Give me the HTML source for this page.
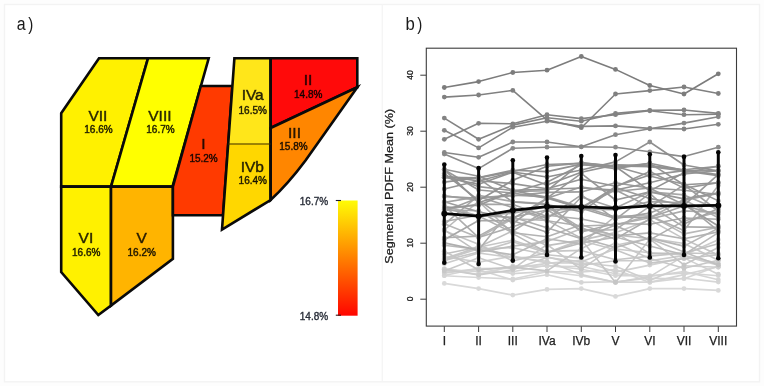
<!DOCTYPE html>
<html><head><meta charset="utf-8"><title>figure</title>
<style>
html,body{margin:0;padding:0;background:#fdfdfd;}
body{width:764px;height:386px;overflow:hidden;font-family:"Liberation Sans",sans-serif;}
svg{display:block;will-change:transform;}
text{font-family:"Liberation Sans",sans-serif;}
</style></head><body>
<svg width="764" height="386" viewBox="0 0 764 386">
<defs><linearGradient id="cb" x1="0" y1="0" x2="0" y2="1">
<stop offset="0" stop-color="#fffc05"/><stop offset="0.5" stop-color="#ff8000"/><stop offset="1" stop-color="#ff0500"/></linearGradient></defs>
<rect x="0" y="0" width="764" height="386" fill="#fdfdfd"/>
<rect x="4.5" y="4.5" width="755" height="377.3" fill="#ffffff" stroke="#f3f3f3" stroke-width="1.4"/>
<line x1="382.3" y1="4.5" x2="382.3" y2="381.8" stroke="#f5f5f5" stroke-width="1.4"/>
<text transform="translate(16.8,30) scale(0.84,1)" font-size="19" fill="#1a1a1a">a</text><text transform="translate(28.2,29.8) scale(0.8,1)" font-size="19" fill="#1a1a1a">)</text>
<text transform="translate(405.4,30) scale(0.88,1)" font-size="19" fill="#1a1a1a">b</text><text transform="translate(417.3,29.8) scale(0.8,1)" font-size="19" fill="#1a1a1a">)</text>
<g id="liver">
<polygon points="99,58.3 148,58.3 111,186.6 61.2,186.6 61.2,113.2" fill="#fff100" stroke="#0a0a0a" stroke-width="2.6" stroke-linejoin="miter"/>
<polygon points="148,58.3 208.7,58.3 172.5,186.6 111,186.6" fill="#ffff00" stroke="#0a0a0a" stroke-width="2.6" stroke-linejoin="miter"/>
<polygon points="61.2,186.6 111,186.6 111,305.6 98.3,315.1 61.2,272" fill="#fff100" stroke="#0a0a0a" stroke-width="2.6" stroke-linejoin="miter"/>
<polygon points="111,186.6 172.9,186.6 172.9,258.9 111,305.6" fill="#ffb400" stroke="#0a0a0a" stroke-width="2.6" stroke-linejoin="miter"/>
<polygon points="200.8,86.0 232.4,86.0 223.0,215.3 172.9,215.3 172.9,186.6" fill="#ff3a00" stroke="#0a0a0a" stroke-width="2.6" stroke-linejoin="miter"/>
<polygon points="234.4,58.2 270.6,58.2 270.6,143.5 228.2,143.5" fill="#ffe61a" stroke="#ffe61a" stroke-width="0.6"/>
<polygon points="228.2,143.5 270.6,143.5 270.6,200 222.0,229.6" fill="#ffd700" stroke="#ffd700" stroke-width="0.6"/>
<polygon points="270.6,58.2 357.3,58.2 357.3,87.3 270.6,128" fill="#ff0a0a" stroke="#0a0a0a" stroke-width="2.6" stroke-linejoin="miter"/>
<path d="M270.6,128 L357.3,87.3 L305.5,160.5 Q288,184 270.6,200 Z" fill="#ff8600" stroke="#0a0a0a" stroke-width="2.6" stroke-linejoin="miter"/>
<polygon points="234.4,58.2 270.6,58.2 270.6,200 222.0,229.6" fill="none" stroke="#0a0a0a" stroke-width="2.6" stroke-linejoin="miter"/>
<line x1="228.2" y1="144" x2="270.6" y2="144" stroke="#3a3000" stroke-width="1.1"/>
<text x="97.9" y="120.7" font-size="15.5" fill="rgba(0,0,0,0.82)" stroke="rgba(0,0,0,0.65)" stroke-width="0.55" text-anchor="middle">VII</text>
<text x="98.5" y="133.4" font-size="10" fill="rgba(0,0,0,0.82)" stroke="rgba(0,0,0,0.65)" stroke-width="0.55" text-anchor="middle">16.6%</text>
<text x="159.9" y="120.7" font-size="15.5" fill="rgba(0,0,0,0.82)" stroke="rgba(0,0,0,0.65)" stroke-width="0.55" text-anchor="middle">VIII</text>
<text x="160.5" y="133.4" font-size="10" fill="rgba(0,0,0,0.82)" stroke="rgba(0,0,0,0.65)" stroke-width="0.55" text-anchor="middle">16.7%</text>
<text x="85.9" y="243.1" font-size="15.5" fill="rgba(0,0,0,0.82)" stroke="rgba(0,0,0,0.65)" stroke-width="0.55" text-anchor="middle">VI</text>
<text x="86.2" y="255.7" font-size="10" fill="rgba(0,0,0,0.82)" stroke="rgba(0,0,0,0.65)" stroke-width="0.55" text-anchor="middle">16.6%</text>
<text x="141.7" y="243.1" font-size="15.5" fill="rgba(0,0,0,0.82)" stroke="rgba(0,0,0,0.65)" stroke-width="0.55" text-anchor="middle">V</text>
<text x="141.7" y="255.7" font-size="10" fill="rgba(0,0,0,0.82)" stroke="rgba(0,0,0,0.65)" stroke-width="0.55" text-anchor="middle">16.2%</text>
<text x="203.4" y="149.0" font-size="15.5" fill="rgba(0,0,0,0.82)" stroke="rgba(0,0,0,0.65)" stroke-width="0.55" text-anchor="middle">I</text>
<text x="203.6" y="162.2" font-size="10" fill="rgba(0,0,0,0.82)" stroke="rgba(0,0,0,0.65)" stroke-width="0.55" text-anchor="middle">15.2%</text>
<text x="252.7" y="100.2" font-size="15.5" fill="rgba(0,0,0,0.82)" stroke="rgba(0,0,0,0.65)" stroke-width="0.55" text-anchor="middle">IVa</text>
<text x="252.7" y="113.7" font-size="10" fill="rgba(0,0,0,0.82)" stroke="rgba(0,0,0,0.65)" stroke-width="0.55" text-anchor="middle">16.5%</text>
<text x="252.3" y="171.8" font-size="15.5" fill="rgba(0,0,0,0.82)" stroke="rgba(0,0,0,0.65)" stroke-width="0.55" text-anchor="middle">IVb</text>
<text x="252.8" y="184.2" font-size="10" fill="rgba(0,0,0,0.82)" stroke="rgba(0,0,0,0.65)" stroke-width="0.55" text-anchor="middle">16.4%</text>
<text x="308.0" y="85.1" font-size="15.5" fill="rgba(0,0,0,0.82)" stroke="rgba(0,0,0,0.65)" stroke-width="0.55" text-anchor="middle">II</text>
<text x="308.2" y="97.5" font-size="10" fill="rgba(0,0,0,0.82)" stroke="rgba(0,0,0,0.65)" stroke-width="0.55" text-anchor="middle">14.8%</text>
<text x="294.5" y="138.0" font-size="15.5" fill="rgba(0,0,0,0.82)" stroke="rgba(0,0,0,0.65)" stroke-width="0.55" text-anchor="middle">III</text>
<text x="293.5" y="150.3" font-size="10" fill="rgba(0,0,0,0.82)" stroke="rgba(0,0,0,0.65)" stroke-width="0.55" text-anchor="middle">15.8%</text>
</g>
<g id="cbar">
<rect x="338" y="200.5" width="19.6" height="115.2" fill="url(#cb)"/>
<line x1="335.8" y1="200.5" x2="341" y2="200.5" stroke="#1a1a30" stroke-width="1.1"/>
<line x1="335.8" y1="315.2" x2="341" y2="315.2" stroke="#3a1010" stroke-width="1.1"/>
<text x="314" y="204.9" font-size="10" text-anchor="middle" fill="#2a2f3a" stroke="#2a2f3a" stroke-width="0.35">16.7%</text>
<text x="314" y="319.5" font-size="10" text-anchor="middle" fill="#2a2f3a" stroke="#2a2f3a" stroke-width="0.35">14.8%</text>
</g>
<g id="chart">
<polyline points="444.3,283.4 478.6,288.6 512.8,295.1 547.0,289.4 581.3,288.6 615.5,296.4 649.8,288.6 684.0,288.6 718.3,290.4" fill="none" stroke="#d9d9d9" stroke-width="1.6" stroke-linejoin="round"/>
<circle cx="444.3" cy="283.4" r="2.4" fill="#d9d9d9"/>
<circle cx="478.6" cy="288.6" r="2.4" fill="#d9d9d9"/>
<circle cx="512.8" cy="295.1" r="2.4" fill="#d9d9d9"/>
<circle cx="547.0" cy="289.4" r="2.4" fill="#d9d9d9"/>
<circle cx="581.3" cy="288.6" r="2.4" fill="#d9d9d9"/>
<circle cx="615.5" cy="296.4" r="2.4" fill="#d9d9d9"/>
<circle cx="649.8" cy="288.6" r="2.4" fill="#d9d9d9"/>
<circle cx="684.0" cy="288.6" r="2.4" fill="#d9d9d9"/>
<circle cx="718.3" cy="290.4" r="2.4" fill="#d9d9d9"/>
<polyline points="444.3,275.7 478.6,277.5 512.8,279.0 547.0,271.8 581.3,275.7 615.5,282.1 649.8,282.1 684.0,278.3 718.3,282.1" fill="none" stroke="#d6d6d6" stroke-width="1.6" stroke-linejoin="round"/>
<circle cx="444.3" cy="275.7" r="2.4" fill="#d6d6d6"/>
<circle cx="478.6" cy="277.5" r="2.4" fill="#d6d6d6"/>
<circle cx="512.8" cy="279.0" r="2.4" fill="#d6d6d6"/>
<circle cx="547.0" cy="271.8" r="2.4" fill="#d6d6d6"/>
<circle cx="581.3" cy="275.7" r="2.4" fill="#d6d6d6"/>
<circle cx="615.5" cy="282.1" r="2.4" fill="#d6d6d6"/>
<circle cx="649.8" cy="282.1" r="2.4" fill="#d6d6d6"/>
<circle cx="684.0" cy="278.3" r="2.4" fill="#d6d6d6"/>
<circle cx="718.3" cy="282.1" r="2.4" fill="#d6d6d6"/>
<polyline points="444.3,271.9 478.6,269.7 512.8,280.0 547.0,274.7 581.3,282.4 615.5,281.7 649.8,278.3 684.0,278.7 718.3,266.1" fill="none" stroke="#d5d5d5" stroke-width="1.6" stroke-linejoin="round"/>
<circle cx="444.3" cy="271.9" r="2.4" fill="#d5d5d5"/>
<circle cx="478.6" cy="269.7" r="2.4" fill="#d5d5d5"/>
<circle cx="512.8" cy="280.0" r="2.4" fill="#d5d5d5"/>
<circle cx="547.0" cy="274.7" r="2.4" fill="#d5d5d5"/>
<circle cx="581.3" cy="282.4" r="2.4" fill="#d5d5d5"/>
<circle cx="615.5" cy="281.7" r="2.4" fill="#d5d5d5"/>
<circle cx="649.8" cy="278.3" r="2.4" fill="#d5d5d5"/>
<circle cx="684.0" cy="278.7" r="2.4" fill="#d5d5d5"/>
<circle cx="718.3" cy="266.1" r="2.4" fill="#d5d5d5"/>
<polyline points="444.3,275.5 478.6,268.2 512.8,273.6 547.0,271.5 581.3,272.0 615.5,269.6 649.8,282.4 684.0,274.6 718.3,266.8" fill="none" stroke="#d4d4d4" stroke-width="1.6" stroke-linejoin="round"/>
<circle cx="444.3" cy="275.5" r="2.4" fill="#d4d4d4"/>
<circle cx="478.6" cy="268.2" r="2.4" fill="#d4d4d4"/>
<circle cx="512.8" cy="273.6" r="2.4" fill="#d4d4d4"/>
<circle cx="547.0" cy="271.5" r="2.4" fill="#d4d4d4"/>
<circle cx="581.3" cy="272.0" r="2.4" fill="#d4d4d4"/>
<circle cx="615.5" cy="269.6" r="2.4" fill="#d4d4d4"/>
<circle cx="649.8" cy="282.4" r="2.4" fill="#d4d4d4"/>
<circle cx="684.0" cy="274.6" r="2.4" fill="#d4d4d4"/>
<circle cx="718.3" cy="266.8" r="2.4" fill="#d4d4d4"/>
<polyline points="444.3,269.2 478.6,271.8 512.8,271.8 547.0,265.3 581.3,269.2 615.5,275.7 649.8,275.7 684.0,273.0 718.3,275.7" fill="none" stroke="#d4d4d4" stroke-width="1.6" stroke-linejoin="round"/>
<circle cx="444.3" cy="269.2" r="2.4" fill="#d4d4d4"/>
<circle cx="478.6" cy="271.8" r="2.4" fill="#d4d4d4"/>
<circle cx="512.8" cy="271.8" r="2.4" fill="#d4d4d4"/>
<circle cx="547.0" cy="265.3" r="2.4" fill="#d4d4d4"/>
<circle cx="581.3" cy="269.2" r="2.4" fill="#d4d4d4"/>
<circle cx="615.5" cy="275.7" r="2.4" fill="#d4d4d4"/>
<circle cx="649.8" cy="275.7" r="2.4" fill="#d4d4d4"/>
<circle cx="684.0" cy="273.0" r="2.4" fill="#d4d4d4"/>
<circle cx="718.3" cy="275.7" r="2.4" fill="#d4d4d4"/>
<polyline points="444.3,268.6 478.6,274.6 512.8,265.9 547.0,266.3 581.3,266.5 615.5,273.8 649.8,276.4 684.0,271.5 718.3,279.8" fill="none" stroke="#d4d4d4" stroke-width="1.6" stroke-linejoin="round"/>
<circle cx="444.3" cy="268.6" r="2.4" fill="#d4d4d4"/>
<circle cx="478.6" cy="274.6" r="2.4" fill="#d4d4d4"/>
<circle cx="512.8" cy="265.9" r="2.4" fill="#d4d4d4"/>
<circle cx="547.0" cy="266.3" r="2.4" fill="#d4d4d4"/>
<circle cx="581.3" cy="266.5" r="2.4" fill="#d4d4d4"/>
<circle cx="615.5" cy="273.8" r="2.4" fill="#d4d4d4"/>
<circle cx="649.8" cy="276.4" r="2.4" fill="#d4d4d4"/>
<circle cx="684.0" cy="271.5" r="2.4" fill="#d4d4d4"/>
<circle cx="718.3" cy="279.8" r="2.4" fill="#d4d4d4"/>
<polyline points="444.3,273.1 478.6,268.6 512.8,268.4 547.0,263.4 581.3,260.2 615.5,272.1 649.8,265.1 684.0,257.9 718.3,274.2" fill="none" stroke="#d1d1d1" stroke-width="1.6" stroke-linejoin="round"/>
<circle cx="444.3" cy="273.1" r="2.4" fill="#d1d1d1"/>
<circle cx="478.6" cy="268.6" r="2.4" fill="#d1d1d1"/>
<circle cx="512.8" cy="268.4" r="2.4" fill="#d1d1d1"/>
<circle cx="547.0" cy="263.4" r="2.4" fill="#d1d1d1"/>
<circle cx="581.3" cy="260.2" r="2.4" fill="#d1d1d1"/>
<circle cx="615.5" cy="272.1" r="2.4" fill="#d1d1d1"/>
<circle cx="649.8" cy="265.1" r="2.4" fill="#d1d1d1"/>
<circle cx="684.0" cy="257.9" r="2.4" fill="#d1d1d1"/>
<circle cx="718.3" cy="274.2" r="2.4" fill="#d1d1d1"/>
<polyline points="444.3,256.5 478.6,262.1 512.8,256.1 547.0,262.9 581.3,263.0 615.5,266.3 649.8,280.5 684.0,265.7 718.3,267.3" fill="none" stroke="#cfcfcf" stroke-width="1.6" stroke-linejoin="round"/>
<circle cx="444.3" cy="256.5" r="2.4" fill="#cfcfcf"/>
<circle cx="478.6" cy="262.1" r="2.4" fill="#cfcfcf"/>
<circle cx="512.8" cy="256.1" r="2.4" fill="#cfcfcf"/>
<circle cx="547.0" cy="262.9" r="2.4" fill="#cfcfcf"/>
<circle cx="581.3" cy="263.0" r="2.4" fill="#cfcfcf"/>
<circle cx="615.5" cy="266.3" r="2.4" fill="#cfcfcf"/>
<circle cx="649.8" cy="280.5" r="2.4" fill="#cfcfcf"/>
<circle cx="684.0" cy="265.7" r="2.4" fill="#cfcfcf"/>
<circle cx="718.3" cy="267.3" r="2.4" fill="#cfcfcf"/>
<polyline points="444.3,260.7 478.6,246.1 512.8,257.5 547.0,261.3 581.3,274.5 615.5,282.4 649.8,276.6 684.0,255.9 718.3,265.2" fill="none" stroke="#cfcfcf" stroke-width="1.6" stroke-linejoin="round"/>
<circle cx="444.3" cy="260.7" r="2.4" fill="#cfcfcf"/>
<circle cx="478.6" cy="246.1" r="2.4" fill="#cfcfcf"/>
<circle cx="512.8" cy="257.5" r="2.4" fill="#cfcfcf"/>
<circle cx="547.0" cy="261.3" r="2.4" fill="#cfcfcf"/>
<circle cx="581.3" cy="274.5" r="2.4" fill="#cfcfcf"/>
<circle cx="615.5" cy="282.4" r="2.4" fill="#cfcfcf"/>
<circle cx="649.8" cy="276.6" r="2.4" fill="#cfcfcf"/>
<circle cx="684.0" cy="255.9" r="2.4" fill="#cfcfcf"/>
<circle cx="718.3" cy="265.2" r="2.4" fill="#cfcfcf"/>
<polyline points="444.3,263.7 478.6,253.0 512.8,257.7 547.0,256.9 581.3,265.2 615.5,260.8 649.8,260.8 684.0,255.6 718.3,263.2" fill="none" stroke="#cbcbcb" stroke-width="1.6" stroke-linejoin="round"/>
<circle cx="444.3" cy="263.7" r="2.4" fill="#cbcbcb"/>
<circle cx="478.6" cy="253.0" r="2.4" fill="#cbcbcb"/>
<circle cx="512.8" cy="257.7" r="2.4" fill="#cbcbcb"/>
<circle cx="547.0" cy="256.9" r="2.4" fill="#cbcbcb"/>
<circle cx="581.3" cy="265.2" r="2.4" fill="#cbcbcb"/>
<circle cx="615.5" cy="260.8" r="2.4" fill="#cbcbcb"/>
<circle cx="649.8" cy="260.8" r="2.4" fill="#cbcbcb"/>
<circle cx="684.0" cy="255.6" r="2.4" fill="#cbcbcb"/>
<circle cx="718.3" cy="263.2" r="2.4" fill="#cbcbcb"/>
<polyline points="444.3,269.5 478.6,274.9 512.8,269.8 547.0,257.5 581.3,261.7 615.5,249.0 649.8,252.8 684.0,255.0 718.3,239.7" fill="none" stroke="#cbcbcb" stroke-width="1.6" stroke-linejoin="round"/>
<circle cx="444.3" cy="269.5" r="2.4" fill="#cbcbcb"/>
<circle cx="478.6" cy="274.9" r="2.4" fill="#cbcbcb"/>
<circle cx="512.8" cy="269.8" r="2.4" fill="#cbcbcb"/>
<circle cx="547.0" cy="257.5" r="2.4" fill="#cbcbcb"/>
<circle cx="581.3" cy="261.7" r="2.4" fill="#cbcbcb"/>
<circle cx="615.5" cy="249.0" r="2.4" fill="#cbcbcb"/>
<circle cx="649.8" cy="252.8" r="2.4" fill="#cbcbcb"/>
<circle cx="684.0" cy="255.0" r="2.4" fill="#cbcbcb"/>
<circle cx="718.3" cy="239.7" r="2.4" fill="#cbcbcb"/>
<polyline points="444.3,271.1 478.6,257.7 512.8,269.2 547.0,244.5 581.3,269.3 615.5,245.3 649.8,238.3 684.0,243.5 718.3,260.2" fill="none" stroke="#c8c8c8" stroke-width="1.6" stroke-linejoin="round"/>
<circle cx="444.3" cy="271.1" r="2.4" fill="#c8c8c8"/>
<circle cx="478.6" cy="257.7" r="2.4" fill="#c8c8c8"/>
<circle cx="512.8" cy="269.2" r="2.4" fill="#c8c8c8"/>
<circle cx="547.0" cy="244.5" r="2.4" fill="#c8c8c8"/>
<circle cx="581.3" cy="269.3" r="2.4" fill="#c8c8c8"/>
<circle cx="615.5" cy="245.3" r="2.4" fill="#c8c8c8"/>
<circle cx="649.8" cy="238.3" r="2.4" fill="#c8c8c8"/>
<circle cx="684.0" cy="243.5" r="2.4" fill="#c8c8c8"/>
<circle cx="718.3" cy="260.2" r="2.4" fill="#c8c8c8"/>
<polyline points="444.3,259.6 478.6,248.7 512.8,247.7 547.0,254.7 581.3,258.1 615.5,243.0 649.8,258.5 684.0,268.2 718.3,260.2" fill="none" stroke="#c8c8c8" stroke-width="1.6" stroke-linejoin="round"/>
<circle cx="444.3" cy="259.6" r="2.4" fill="#c8c8c8"/>
<circle cx="478.6" cy="248.7" r="2.4" fill="#c8c8c8"/>
<circle cx="512.8" cy="247.7" r="2.4" fill="#c8c8c8"/>
<circle cx="547.0" cy="254.7" r="2.4" fill="#c8c8c8"/>
<circle cx="581.3" cy="258.1" r="2.4" fill="#c8c8c8"/>
<circle cx="615.5" cy="243.0" r="2.4" fill="#c8c8c8"/>
<circle cx="649.8" cy="258.5" r="2.4" fill="#c8c8c8"/>
<circle cx="684.0" cy="268.2" r="2.4" fill="#c8c8c8"/>
<circle cx="718.3" cy="260.2" r="2.4" fill="#c8c8c8"/>
<polyline points="444.3,260.4 478.6,252.0 512.8,241.7 547.0,253.0 581.3,240.7 615.5,249.8 649.8,263.1 684.0,258.7 718.3,254.6" fill="none" stroke="#c6c6c6" stroke-width="1.6" stroke-linejoin="round"/>
<circle cx="444.3" cy="260.4" r="2.4" fill="#c6c6c6"/>
<circle cx="478.6" cy="252.0" r="2.4" fill="#c6c6c6"/>
<circle cx="512.8" cy="241.7" r="2.4" fill="#c6c6c6"/>
<circle cx="547.0" cy="253.0" r="2.4" fill="#c6c6c6"/>
<circle cx="581.3" cy="240.7" r="2.4" fill="#c6c6c6"/>
<circle cx="615.5" cy="249.8" r="2.4" fill="#c6c6c6"/>
<circle cx="649.8" cy="263.1" r="2.4" fill="#c6c6c6"/>
<circle cx="684.0" cy="258.7" r="2.4" fill="#c6c6c6"/>
<circle cx="718.3" cy="254.6" r="2.4" fill="#c6c6c6"/>
<polyline points="444.3,258.5 478.6,247.3 512.8,240.2 547.0,251.4 581.3,250.4 615.5,259.8 649.8,256.1 684.0,253.0 718.3,253.7" fill="none" stroke="#c6c6c6" stroke-width="1.6" stroke-linejoin="round"/>
<circle cx="444.3" cy="258.5" r="2.4" fill="#c6c6c6"/>
<circle cx="478.6" cy="247.3" r="2.4" fill="#c6c6c6"/>
<circle cx="512.8" cy="240.2" r="2.4" fill="#c6c6c6"/>
<circle cx="547.0" cy="251.4" r="2.4" fill="#c6c6c6"/>
<circle cx="581.3" cy="250.4" r="2.4" fill="#c6c6c6"/>
<circle cx="615.5" cy="259.8" r="2.4" fill="#c6c6c6"/>
<circle cx="649.8" cy="256.1" r="2.4" fill="#c6c6c6"/>
<circle cx="684.0" cy="253.0" r="2.4" fill="#c6c6c6"/>
<circle cx="718.3" cy="253.7" r="2.4" fill="#c6c6c6"/>
<polyline points="444.3,230.8 478.6,244.3 512.8,261.0 547.0,252.7 581.3,239.5 615.5,282.4 649.8,239.2 684.0,264.8 718.3,247.5" fill="none" stroke="#c5c5c5" stroke-width="1.6" stroke-linejoin="round"/>
<circle cx="444.3" cy="230.8" r="2.4" fill="#c5c5c5"/>
<circle cx="478.6" cy="244.3" r="2.4" fill="#c5c5c5"/>
<circle cx="512.8" cy="261.0" r="2.4" fill="#c5c5c5"/>
<circle cx="547.0" cy="252.7" r="2.4" fill="#c5c5c5"/>
<circle cx="581.3" cy="239.5" r="2.4" fill="#c5c5c5"/>
<circle cx="615.5" cy="282.4" r="2.4" fill="#c5c5c5"/>
<circle cx="649.8" cy="239.2" r="2.4" fill="#c5c5c5"/>
<circle cx="684.0" cy="264.8" r="2.4" fill="#c5c5c5"/>
<circle cx="718.3" cy="247.5" r="2.4" fill="#c5c5c5"/>
<polyline points="444.3,251.2 478.6,269.8 512.8,267.1 547.0,270.9 581.3,248.4 615.5,232.8 649.8,219.8 684.0,238.9 718.3,254.9" fill="none" stroke="#c5c5c5" stroke-width="1.6" stroke-linejoin="round"/>
<circle cx="444.3" cy="251.2" r="2.4" fill="#c5c5c5"/>
<circle cx="478.6" cy="269.8" r="2.4" fill="#c5c5c5"/>
<circle cx="512.8" cy="267.1" r="2.4" fill="#c5c5c5"/>
<circle cx="547.0" cy="270.9" r="2.4" fill="#c5c5c5"/>
<circle cx="581.3" cy="248.4" r="2.4" fill="#c5c5c5"/>
<circle cx="615.5" cy="232.8" r="2.4" fill="#c5c5c5"/>
<circle cx="649.8" cy="219.8" r="2.4" fill="#c5c5c5"/>
<circle cx="684.0" cy="238.9" r="2.4" fill="#c5c5c5"/>
<circle cx="718.3" cy="254.9" r="2.4" fill="#c5c5c5"/>
<polyline points="444.3,254.0 478.6,247.0 512.8,230.8 547.0,245.6 581.3,240.1 615.5,232.6 649.8,253.6 684.0,253.1 718.3,243.8" fill="none" stroke="#c0c0c0" stroke-width="1.6" stroke-linejoin="round"/>
<circle cx="444.3" cy="254.0" r="2.4" fill="#c0c0c0"/>
<circle cx="478.6" cy="247.0" r="2.4" fill="#c0c0c0"/>
<circle cx="512.8" cy="230.8" r="2.4" fill="#c0c0c0"/>
<circle cx="547.0" cy="245.6" r="2.4" fill="#c0c0c0"/>
<circle cx="581.3" cy="240.1" r="2.4" fill="#c0c0c0"/>
<circle cx="615.5" cy="232.6" r="2.4" fill="#c0c0c0"/>
<circle cx="649.8" cy="253.6" r="2.4" fill="#c0c0c0"/>
<circle cx="684.0" cy="253.1" r="2.4" fill="#c0c0c0"/>
<circle cx="718.3" cy="243.8" r="2.4" fill="#c0c0c0"/>
<polyline points="444.3,229.9 478.6,252.3 512.8,246.1 547.0,241.6 581.3,228.7 615.5,235.0 649.8,238.8 684.0,252.1 718.3,265.0" fill="none" stroke="#bfbfbf" stroke-width="1.6" stroke-linejoin="round"/>
<circle cx="444.3" cy="229.9" r="2.4" fill="#bfbfbf"/>
<circle cx="478.6" cy="252.3" r="2.4" fill="#bfbfbf"/>
<circle cx="512.8" cy="246.1" r="2.4" fill="#bfbfbf"/>
<circle cx="547.0" cy="241.6" r="2.4" fill="#bfbfbf"/>
<circle cx="581.3" cy="228.7" r="2.4" fill="#bfbfbf"/>
<circle cx="615.5" cy="235.0" r="2.4" fill="#bfbfbf"/>
<circle cx="649.8" cy="238.8" r="2.4" fill="#bfbfbf"/>
<circle cx="684.0" cy="252.1" r="2.4" fill="#bfbfbf"/>
<circle cx="718.3" cy="265.0" r="2.4" fill="#bfbfbf"/>
<polyline points="444.3,230.0 478.6,201.3 512.8,233.6 547.0,252.4 581.3,243.0 615.5,237.1 649.8,246.0 684.0,254.7 718.3,232.7" fill="none" stroke="#bababa" stroke-width="1.6" stroke-linejoin="round"/>
<circle cx="444.3" cy="230.0" r="2.4" fill="#bababa"/>
<circle cx="478.6" cy="201.3" r="2.4" fill="#bababa"/>
<circle cx="512.8" cy="233.6" r="2.4" fill="#bababa"/>
<circle cx="547.0" cy="252.4" r="2.4" fill="#bababa"/>
<circle cx="581.3" cy="243.0" r="2.4" fill="#bababa"/>
<circle cx="615.5" cy="237.1" r="2.4" fill="#bababa"/>
<circle cx="649.8" cy="246.0" r="2.4" fill="#bababa"/>
<circle cx="684.0" cy="254.7" r="2.4" fill="#bababa"/>
<circle cx="718.3" cy="232.7" r="2.4" fill="#bababa"/>
<polyline points="444.3,245.3 478.6,249.5 512.8,254.8 547.0,238.7 581.3,243.9 615.5,216.0 649.8,215.5 684.0,233.9 718.3,227.2" fill="none" stroke="#b9b9b9" stroke-width="1.6" stroke-linejoin="round"/>
<circle cx="444.3" cy="245.3" r="2.4" fill="#b9b9b9"/>
<circle cx="478.6" cy="249.5" r="2.4" fill="#b9b9b9"/>
<circle cx="512.8" cy="254.8" r="2.4" fill="#b9b9b9"/>
<circle cx="547.0" cy="238.7" r="2.4" fill="#b9b9b9"/>
<circle cx="581.3" cy="243.9" r="2.4" fill="#b9b9b9"/>
<circle cx="615.5" cy="216.0" r="2.4" fill="#b9b9b9"/>
<circle cx="649.8" cy="215.5" r="2.4" fill="#b9b9b9"/>
<circle cx="684.0" cy="233.9" r="2.4" fill="#b9b9b9"/>
<circle cx="718.3" cy="227.2" r="2.4" fill="#b9b9b9"/>
<polyline points="444.3,223.7 478.6,237.6 512.8,218.7 547.0,220.4 581.3,238.1 615.5,247.4 649.8,238.1 684.0,246.1 718.3,228.2" fill="none" stroke="#b7b7b7" stroke-width="1.6" stroke-linejoin="round"/>
<circle cx="444.3" cy="223.7" r="2.4" fill="#b7b7b7"/>
<circle cx="478.6" cy="237.6" r="2.4" fill="#b7b7b7"/>
<circle cx="512.8" cy="218.7" r="2.4" fill="#b7b7b7"/>
<circle cx="547.0" cy="220.4" r="2.4" fill="#b7b7b7"/>
<circle cx="581.3" cy="238.1" r="2.4" fill="#b7b7b7"/>
<circle cx="615.5" cy="247.4" r="2.4" fill="#b7b7b7"/>
<circle cx="649.8" cy="238.1" r="2.4" fill="#b7b7b7"/>
<circle cx="684.0" cy="246.1" r="2.4" fill="#b7b7b7"/>
<circle cx="718.3" cy="228.2" r="2.4" fill="#b7b7b7"/>
<polyline points="444.3,205.7 478.6,216.0 512.8,232.7 547.0,236.8 581.3,224.7 615.5,235.9 649.8,232.9 684.0,238.8 718.3,231.9" fill="none" stroke="#b3b3b3" stroke-width="1.6" stroke-linejoin="round"/>
<circle cx="444.3" cy="205.7" r="2.4" fill="#b3b3b3"/>
<circle cx="478.6" cy="216.0" r="2.4" fill="#b3b3b3"/>
<circle cx="512.8" cy="232.7" r="2.4" fill="#b3b3b3"/>
<circle cx="547.0" cy="236.8" r="2.4" fill="#b3b3b3"/>
<circle cx="581.3" cy="224.7" r="2.4" fill="#b3b3b3"/>
<circle cx="615.5" cy="235.9" r="2.4" fill="#b3b3b3"/>
<circle cx="649.8" cy="232.9" r="2.4" fill="#b3b3b3"/>
<circle cx="684.0" cy="238.8" r="2.4" fill="#b3b3b3"/>
<circle cx="718.3" cy="231.9" r="2.4" fill="#b3b3b3"/>
<polyline points="444.3,237.8 478.6,236.1 512.8,217.2 547.0,227.7 581.3,238.7 615.5,225.1 649.8,215.7 684.0,230.5 718.3,185.5" fill="none" stroke="#afafaf" stroke-width="1.6" stroke-linejoin="round"/>
<circle cx="444.3" cy="237.8" r="2.4" fill="#afafaf"/>
<circle cx="478.6" cy="236.1" r="2.4" fill="#afafaf"/>
<circle cx="512.8" cy="217.2" r="2.4" fill="#afafaf"/>
<circle cx="547.0" cy="227.7" r="2.4" fill="#afafaf"/>
<circle cx="581.3" cy="238.7" r="2.4" fill="#afafaf"/>
<circle cx="615.5" cy="225.1" r="2.4" fill="#afafaf"/>
<circle cx="649.8" cy="215.7" r="2.4" fill="#afafaf"/>
<circle cx="684.0" cy="230.5" r="2.4" fill="#afafaf"/>
<circle cx="718.3" cy="185.5" r="2.4" fill="#afafaf"/>
<polyline points="444.3,242.9 478.6,250.1 512.8,207.3 547.0,220.7 581.3,226.0 615.5,224.8 649.8,217.7 684.0,199.7 718.3,217.7" fill="none" stroke="#afafaf" stroke-width="1.6" stroke-linejoin="round"/>
<circle cx="444.3" cy="242.9" r="2.4" fill="#afafaf"/>
<circle cx="478.6" cy="250.1" r="2.4" fill="#afafaf"/>
<circle cx="512.8" cy="207.3" r="2.4" fill="#afafaf"/>
<circle cx="547.0" cy="220.7" r="2.4" fill="#afafaf"/>
<circle cx="581.3" cy="226.0" r="2.4" fill="#afafaf"/>
<circle cx="615.5" cy="224.8" r="2.4" fill="#afafaf"/>
<circle cx="649.8" cy="217.7" r="2.4" fill="#afafaf"/>
<circle cx="684.0" cy="199.7" r="2.4" fill="#afafaf"/>
<circle cx="718.3" cy="217.7" r="2.4" fill="#afafaf"/>
<polyline points="444.3,205.7 478.6,237.6 512.8,226.7 547.0,215.2 581.3,219.0 615.5,225.8 649.8,239.9 684.0,220.9 718.3,211.9" fill="none" stroke="#aeaeae" stroke-width="1.6" stroke-linejoin="round"/>
<circle cx="444.3" cy="205.7" r="2.4" fill="#aeaeae"/>
<circle cx="478.6" cy="237.6" r="2.4" fill="#aeaeae"/>
<circle cx="512.8" cy="226.7" r="2.4" fill="#aeaeae"/>
<circle cx="547.0" cy="215.2" r="2.4" fill="#aeaeae"/>
<circle cx="581.3" cy="219.0" r="2.4" fill="#aeaeae"/>
<circle cx="615.5" cy="225.8" r="2.4" fill="#aeaeae"/>
<circle cx="649.8" cy="239.9" r="2.4" fill="#aeaeae"/>
<circle cx="684.0" cy="220.9" r="2.4" fill="#aeaeae"/>
<circle cx="718.3" cy="211.9" r="2.4" fill="#aeaeae"/>
<polyline points="444.3,209.8 478.6,210.8 512.8,231.2 547.0,209.8 581.3,230.5 615.5,229.7 649.8,206.4 684.0,226.9 718.3,227.4" fill="none" stroke="#acacac" stroke-width="1.6" stroke-linejoin="round"/>
<circle cx="444.3" cy="209.8" r="2.4" fill="#acacac"/>
<circle cx="478.6" cy="210.8" r="2.4" fill="#acacac"/>
<circle cx="512.8" cy="231.2" r="2.4" fill="#acacac"/>
<circle cx="547.0" cy="209.8" r="2.4" fill="#acacac"/>
<circle cx="581.3" cy="230.5" r="2.4" fill="#acacac"/>
<circle cx="615.5" cy="229.7" r="2.4" fill="#acacac"/>
<circle cx="649.8" cy="206.4" r="2.4" fill="#acacac"/>
<circle cx="684.0" cy="226.9" r="2.4" fill="#acacac"/>
<circle cx="718.3" cy="227.4" r="2.4" fill="#acacac"/>
<polyline points="444.3,221.5 478.6,215.3 512.8,213.3 547.0,206.7 581.3,228.1 615.5,238.9 649.8,219.0 684.0,210.9 718.3,212.5" fill="none" stroke="#ababab" stroke-width="1.6" stroke-linejoin="round"/>
<circle cx="444.3" cy="221.5" r="2.4" fill="#ababab"/>
<circle cx="478.6" cy="215.3" r="2.4" fill="#ababab"/>
<circle cx="512.8" cy="213.3" r="2.4" fill="#ababab"/>
<circle cx="547.0" cy="206.7" r="2.4" fill="#ababab"/>
<circle cx="581.3" cy="228.1" r="2.4" fill="#ababab"/>
<circle cx="615.5" cy="238.9" r="2.4" fill="#ababab"/>
<circle cx="649.8" cy="219.0" r="2.4" fill="#ababab"/>
<circle cx="684.0" cy="210.9" r="2.4" fill="#ababab"/>
<circle cx="718.3" cy="212.5" r="2.4" fill="#ababab"/>
<polyline points="444.3,224.3 478.6,195.4 512.8,201.6 547.0,203.9 581.3,232.0 615.5,223.5 649.8,224.2 684.0,218.0 718.3,219.3" fill="none" stroke="#a9a9a9" stroke-width="1.6" stroke-linejoin="round"/>
<circle cx="444.3" cy="224.3" r="2.4" fill="#a9a9a9"/>
<circle cx="478.6" cy="195.4" r="2.4" fill="#a9a9a9"/>
<circle cx="512.8" cy="201.6" r="2.4" fill="#a9a9a9"/>
<circle cx="547.0" cy="203.9" r="2.4" fill="#a9a9a9"/>
<circle cx="581.3" cy="232.0" r="2.4" fill="#a9a9a9"/>
<circle cx="615.5" cy="223.5" r="2.4" fill="#a9a9a9"/>
<circle cx="649.8" cy="224.2" r="2.4" fill="#a9a9a9"/>
<circle cx="684.0" cy="218.0" r="2.4" fill="#a9a9a9"/>
<circle cx="718.3" cy="219.3" r="2.4" fill="#a9a9a9"/>
<polyline points="444.3,239.8 478.6,220.5 512.8,220.8 547.0,232.3 581.3,197.0 615.5,207.9 649.8,191.9 684.0,194.9 718.3,209.4" fill="none" stroke="#a7a7a7" stroke-width="1.6" stroke-linejoin="round"/>
<circle cx="444.3" cy="239.8" r="2.4" fill="#a7a7a7"/>
<circle cx="478.6" cy="220.5" r="2.4" fill="#a7a7a7"/>
<circle cx="512.8" cy="220.8" r="2.4" fill="#a7a7a7"/>
<circle cx="547.0" cy="232.3" r="2.4" fill="#a7a7a7"/>
<circle cx="581.3" cy="197.0" r="2.4" fill="#a7a7a7"/>
<circle cx="615.5" cy="207.9" r="2.4" fill="#a7a7a7"/>
<circle cx="649.8" cy="191.9" r="2.4" fill="#a7a7a7"/>
<circle cx="684.0" cy="194.9" r="2.4" fill="#a7a7a7"/>
<circle cx="718.3" cy="209.4" r="2.4" fill="#a7a7a7"/>
<polyline points="444.3,208.8 478.6,215.7 512.8,217.2 547.0,210.0 581.3,209.2 615.5,209.7 649.8,201.6 684.0,202.8 718.3,230.9" fill="none" stroke="#a6a6a6" stroke-width="1.6" stroke-linejoin="round"/>
<circle cx="444.3" cy="208.8" r="2.4" fill="#a6a6a6"/>
<circle cx="478.6" cy="215.7" r="2.4" fill="#a6a6a6"/>
<circle cx="512.8" cy="217.2" r="2.4" fill="#a6a6a6"/>
<circle cx="547.0" cy="210.0" r="2.4" fill="#a6a6a6"/>
<circle cx="581.3" cy="209.2" r="2.4" fill="#a6a6a6"/>
<circle cx="615.5" cy="209.7" r="2.4" fill="#a6a6a6"/>
<circle cx="649.8" cy="201.6" r="2.4" fill="#a6a6a6"/>
<circle cx="684.0" cy="202.8" r="2.4" fill="#a6a6a6"/>
<circle cx="718.3" cy="230.9" r="2.4" fill="#a6a6a6"/>
<polyline points="444.3,209.6 478.6,204.1 512.8,204.5 547.0,216.6 581.3,206.4 615.5,216.9 649.8,217.6 684.0,205.9 718.3,214.5" fill="none" stroke="#a5a5a5" stroke-width="1.6" stroke-linejoin="round"/>
<circle cx="444.3" cy="209.6" r="2.4" fill="#a5a5a5"/>
<circle cx="478.6" cy="204.1" r="2.4" fill="#a5a5a5"/>
<circle cx="512.8" cy="204.5" r="2.4" fill="#a5a5a5"/>
<circle cx="547.0" cy="216.6" r="2.4" fill="#a5a5a5"/>
<circle cx="581.3" cy="206.4" r="2.4" fill="#a5a5a5"/>
<circle cx="615.5" cy="216.9" r="2.4" fill="#a5a5a5"/>
<circle cx="649.8" cy="217.6" r="2.4" fill="#a5a5a5"/>
<circle cx="684.0" cy="205.9" r="2.4" fill="#a5a5a5"/>
<circle cx="718.3" cy="214.5" r="2.4" fill="#a5a5a5"/>
<polyline points="444.3,202.4 478.6,196.7 512.8,207.6 547.0,218.3 581.3,194.8 615.5,219.3 649.8,193.3 684.0,224.1 718.3,208.6" fill="none" stroke="#a3a3a3" stroke-width="1.6" stroke-linejoin="round"/>
<circle cx="444.3" cy="202.4" r="2.4" fill="#a3a3a3"/>
<circle cx="478.6" cy="196.7" r="2.4" fill="#a3a3a3"/>
<circle cx="512.8" cy="207.6" r="2.4" fill="#a3a3a3"/>
<circle cx="547.0" cy="218.3" r="2.4" fill="#a3a3a3"/>
<circle cx="581.3" cy="194.8" r="2.4" fill="#a3a3a3"/>
<circle cx="615.5" cy="219.3" r="2.4" fill="#a3a3a3"/>
<circle cx="649.8" cy="193.3" r="2.4" fill="#a3a3a3"/>
<circle cx="684.0" cy="224.1" r="2.4" fill="#a3a3a3"/>
<circle cx="718.3" cy="208.6" r="2.4" fill="#a3a3a3"/>
<polyline points="444.3,195.9 478.6,200.3 512.8,223.5 547.0,198.3 581.3,208.3 615.5,218.4 649.8,213.1 684.0,200.1 718.3,193.4" fill="none" stroke="#a2a2a2" stroke-width="1.6" stroke-linejoin="round"/>
<circle cx="444.3" cy="195.9" r="2.4" fill="#a2a2a2"/>
<circle cx="478.6" cy="200.3" r="2.4" fill="#a2a2a2"/>
<circle cx="512.8" cy="223.5" r="2.4" fill="#a2a2a2"/>
<circle cx="547.0" cy="198.3" r="2.4" fill="#a2a2a2"/>
<circle cx="581.3" cy="208.3" r="2.4" fill="#a2a2a2"/>
<circle cx="615.5" cy="218.4" r="2.4" fill="#a2a2a2"/>
<circle cx="649.8" cy="213.1" r="2.4" fill="#a2a2a2"/>
<circle cx="684.0" cy="200.1" r="2.4" fill="#a2a2a2"/>
<circle cx="718.3" cy="193.4" r="2.4" fill="#a2a2a2"/>
<polyline points="444.3,211.3 478.6,197.8 512.8,195.2 547.0,196.7 581.3,206.9 615.5,190.0 649.8,206.9 684.0,184.8 718.3,211.0" fill="none" stroke="#9f9f9f" stroke-width="1.6" stroke-linejoin="round"/>
<circle cx="444.3" cy="211.3" r="2.4" fill="#9f9f9f"/>
<circle cx="478.6" cy="197.8" r="2.4" fill="#9f9f9f"/>
<circle cx="512.8" cy="195.2" r="2.4" fill="#9f9f9f"/>
<circle cx="547.0" cy="196.7" r="2.4" fill="#9f9f9f"/>
<circle cx="581.3" cy="206.9" r="2.4" fill="#9f9f9f"/>
<circle cx="615.5" cy="190.0" r="2.4" fill="#9f9f9f"/>
<circle cx="649.8" cy="206.9" r="2.4" fill="#9f9f9f"/>
<circle cx="684.0" cy="184.8" r="2.4" fill="#9f9f9f"/>
<circle cx="718.3" cy="211.0" r="2.4" fill="#9f9f9f"/>
<polyline points="444.3,201.8 478.6,211.8 512.8,218.8 547.0,198.2 581.3,187.1 615.5,191.5 649.8,188.0 684.0,190.2 718.3,194.5" fill="none" stroke="#9d9d9d" stroke-width="1.6" stroke-linejoin="round"/>
<circle cx="444.3" cy="201.8" r="2.4" fill="#9d9d9d"/>
<circle cx="478.6" cy="211.8" r="2.4" fill="#9d9d9d"/>
<circle cx="512.8" cy="218.8" r="2.4" fill="#9d9d9d"/>
<circle cx="547.0" cy="198.2" r="2.4" fill="#9d9d9d"/>
<circle cx="581.3" cy="187.1" r="2.4" fill="#9d9d9d"/>
<circle cx="615.5" cy="191.5" r="2.4" fill="#9d9d9d"/>
<circle cx="649.8" cy="188.0" r="2.4" fill="#9d9d9d"/>
<circle cx="684.0" cy="190.2" r="2.4" fill="#9d9d9d"/>
<circle cx="718.3" cy="194.5" r="2.4" fill="#9d9d9d"/>
<polyline points="444.3,196.4 478.6,198.3 512.8,195.7 547.0,192.4 581.3,191.9 615.5,182.7 649.8,188.3 684.0,204.8 718.3,226.0" fill="none" stroke="#9d9d9d" stroke-width="1.6" stroke-linejoin="round"/>
<circle cx="444.3" cy="196.4" r="2.4" fill="#9d9d9d"/>
<circle cx="478.6" cy="198.3" r="2.4" fill="#9d9d9d"/>
<circle cx="512.8" cy="195.7" r="2.4" fill="#9d9d9d"/>
<circle cx="547.0" cy="192.4" r="2.4" fill="#9d9d9d"/>
<circle cx="581.3" cy="191.9" r="2.4" fill="#9d9d9d"/>
<circle cx="615.5" cy="182.7" r="2.4" fill="#9d9d9d"/>
<circle cx="649.8" cy="188.3" r="2.4" fill="#9d9d9d"/>
<circle cx="684.0" cy="204.8" r="2.4" fill="#9d9d9d"/>
<circle cx="718.3" cy="226.0" r="2.4" fill="#9d9d9d"/>
<polyline points="444.3,177.1 478.6,178.6 512.8,201.9 547.0,204.5 581.3,211.8 615.5,187.4 649.8,198.4 684.0,205.3 718.3,174.4" fill="none" stroke="#9a9a9a" stroke-width="1.6" stroke-linejoin="round"/>
<circle cx="444.3" cy="177.1" r="2.4" fill="#9a9a9a"/>
<circle cx="478.6" cy="178.6" r="2.4" fill="#9a9a9a"/>
<circle cx="512.8" cy="201.9" r="2.4" fill="#9a9a9a"/>
<circle cx="547.0" cy="204.5" r="2.4" fill="#9a9a9a"/>
<circle cx="581.3" cy="211.8" r="2.4" fill="#9a9a9a"/>
<circle cx="615.5" cy="187.4" r="2.4" fill="#9a9a9a"/>
<circle cx="649.8" cy="198.4" r="2.4" fill="#9a9a9a"/>
<circle cx="684.0" cy="205.3" r="2.4" fill="#9a9a9a"/>
<circle cx="718.3" cy="174.4" r="2.4" fill="#9a9a9a"/>
<polyline points="444.3,169.8 478.6,190.0 512.8,193.0 547.0,198.1 581.3,173.4 615.5,200.0 649.8,191.9 684.0,198.9 718.3,192.9" fill="none" stroke="#989898" stroke-width="1.6" stroke-linejoin="round"/>
<circle cx="444.3" cy="169.8" r="2.4" fill="#989898"/>
<circle cx="478.6" cy="190.0" r="2.4" fill="#989898"/>
<circle cx="512.8" cy="193.0" r="2.4" fill="#989898"/>
<circle cx="547.0" cy="198.1" r="2.4" fill="#989898"/>
<circle cx="581.3" cy="173.4" r="2.4" fill="#989898"/>
<circle cx="615.5" cy="200.0" r="2.4" fill="#989898"/>
<circle cx="649.8" cy="191.9" r="2.4" fill="#989898"/>
<circle cx="684.0" cy="198.9" r="2.4" fill="#989898"/>
<circle cx="718.3" cy="192.9" r="2.4" fill="#989898"/>
<polyline points="444.3,175.6 478.6,186.6 512.8,190.6 547.0,197.4 581.3,208.5 615.5,186.8 649.8,171.5 684.0,188.1 718.3,182.7" fill="none" stroke="#979797" stroke-width="1.6" stroke-linejoin="round"/>
<circle cx="444.3" cy="175.6" r="2.4" fill="#979797"/>
<circle cx="478.6" cy="186.6" r="2.4" fill="#979797"/>
<circle cx="512.8" cy="190.6" r="2.4" fill="#979797"/>
<circle cx="547.0" cy="197.4" r="2.4" fill="#979797"/>
<circle cx="581.3" cy="208.5" r="2.4" fill="#979797"/>
<circle cx="615.5" cy="186.8" r="2.4" fill="#979797"/>
<circle cx="649.8" cy="171.5" r="2.4" fill="#979797"/>
<circle cx="684.0" cy="188.1" r="2.4" fill="#979797"/>
<circle cx="718.3" cy="182.7" r="2.4" fill="#979797"/>
<polyline points="444.3,207.8 478.6,205.2 512.8,191.4 547.0,190.8 581.3,162.6 615.5,166.5 649.8,176.0 684.0,184.2 718.3,200.9" fill="none" stroke="#969696" stroke-width="1.6" stroke-linejoin="round"/>
<circle cx="444.3" cy="207.8" r="2.4" fill="#969696"/>
<circle cx="478.6" cy="205.2" r="2.4" fill="#969696"/>
<circle cx="512.8" cy="191.4" r="2.4" fill="#969696"/>
<circle cx="547.0" cy="190.8" r="2.4" fill="#969696"/>
<circle cx="581.3" cy="162.6" r="2.4" fill="#969696"/>
<circle cx="615.5" cy="166.5" r="2.4" fill="#969696"/>
<circle cx="649.8" cy="176.0" r="2.4" fill="#969696"/>
<circle cx="684.0" cy="184.2" r="2.4" fill="#969696"/>
<circle cx="718.3" cy="200.9" r="2.4" fill="#969696"/>
<polyline points="444.3,169.3 478.6,176.3 512.8,190.3 547.0,189.3 581.3,188.0 615.5,190.0 649.8,182.7 684.0,173.9 718.3,170.8" fill="none" stroke="#959595" stroke-width="1.6" stroke-linejoin="round"/>
<circle cx="444.3" cy="169.3" r="2.4" fill="#959595"/>
<circle cx="478.6" cy="176.3" r="2.4" fill="#959595"/>
<circle cx="512.8" cy="190.3" r="2.4" fill="#959595"/>
<circle cx="547.0" cy="189.3" r="2.4" fill="#959595"/>
<circle cx="581.3" cy="188.0" r="2.4" fill="#959595"/>
<circle cx="615.5" cy="190.0" r="2.4" fill="#959595"/>
<circle cx="649.8" cy="182.7" r="2.4" fill="#959595"/>
<circle cx="684.0" cy="173.9" r="2.4" fill="#959595"/>
<circle cx="718.3" cy="170.8" r="2.4" fill="#959595"/>
<polyline points="444.3,189.0 478.6,180.7 512.8,183.6 547.0,188.8 581.3,179.2 615.5,186.3 649.8,175.1 684.0,170.6 718.3,170.5" fill="none" stroke="#949494" stroke-width="1.6" stroke-linejoin="round"/>
<circle cx="444.3" cy="189.0" r="2.4" fill="#949494"/>
<circle cx="478.6" cy="180.7" r="2.4" fill="#949494"/>
<circle cx="512.8" cy="183.6" r="2.4" fill="#949494"/>
<circle cx="547.0" cy="188.8" r="2.4" fill="#949494"/>
<circle cx="581.3" cy="179.2" r="2.4" fill="#949494"/>
<circle cx="615.5" cy="186.3" r="2.4" fill="#949494"/>
<circle cx="649.8" cy="175.1" r="2.4" fill="#949494"/>
<circle cx="684.0" cy="170.6" r="2.4" fill="#949494"/>
<circle cx="718.3" cy="170.5" r="2.4" fill="#949494"/>
<polyline points="444.3,169.6 478.6,202.4 512.8,192.4 547.0,182.2 581.3,164.7 615.5,167.3 649.8,163.4 684.0,184.8 718.3,182.7" fill="none" stroke="#949494" stroke-width="1.6" stroke-linejoin="round"/>
<circle cx="444.3" cy="169.6" r="2.4" fill="#949494"/>
<circle cx="478.6" cy="202.4" r="2.4" fill="#949494"/>
<circle cx="512.8" cy="192.4" r="2.4" fill="#949494"/>
<circle cx="547.0" cy="182.2" r="2.4" fill="#949494"/>
<circle cx="581.3" cy="164.7" r="2.4" fill="#949494"/>
<circle cx="615.5" cy="167.3" r="2.4" fill="#949494"/>
<circle cx="649.8" cy="163.4" r="2.4" fill="#949494"/>
<circle cx="684.0" cy="184.8" r="2.4" fill="#949494"/>
<circle cx="718.3" cy="182.7" r="2.4" fill="#949494"/>
<polyline points="444.3,173.4 478.6,200.5 512.8,180.3 547.0,166.2 581.3,163.1 615.5,165.9 649.8,166.6 684.0,170.9 718.3,175.7" fill="none" stroke="#929292" stroke-width="1.6" stroke-linejoin="round"/>
<circle cx="444.3" cy="173.4" r="2.4" fill="#929292"/>
<circle cx="478.6" cy="200.5" r="2.4" fill="#929292"/>
<circle cx="512.8" cy="180.3" r="2.4" fill="#929292"/>
<circle cx="547.0" cy="166.2" r="2.4" fill="#929292"/>
<circle cx="581.3" cy="163.1" r="2.4" fill="#929292"/>
<circle cx="615.5" cy="165.9" r="2.4" fill="#929292"/>
<circle cx="649.8" cy="166.6" r="2.4" fill="#929292"/>
<circle cx="684.0" cy="170.9" r="2.4" fill="#929292"/>
<circle cx="718.3" cy="175.7" r="2.4" fill="#929292"/>
<polyline points="444.3,177.2 478.6,184.2 512.8,172.2 547.0,185.0 581.3,172.3 615.5,164.9 649.8,165.6 684.0,169.8 718.3,166.3" fill="none" stroke="#929292" stroke-width="1.6" stroke-linejoin="round"/>
<circle cx="444.3" cy="177.2" r="2.4" fill="#929292"/>
<circle cx="478.6" cy="184.2" r="2.4" fill="#929292"/>
<circle cx="512.8" cy="172.2" r="2.4" fill="#929292"/>
<circle cx="547.0" cy="185.0" r="2.4" fill="#929292"/>
<circle cx="581.3" cy="172.3" r="2.4" fill="#929292"/>
<circle cx="615.5" cy="164.9" r="2.4" fill="#929292"/>
<circle cx="649.8" cy="165.6" r="2.4" fill="#929292"/>
<circle cx="684.0" cy="169.8" r="2.4" fill="#929292"/>
<circle cx="718.3" cy="166.3" r="2.4" fill="#929292"/>
<polyline points="444.3,177.3 478.6,177.9 512.8,171.4 547.0,164.5 581.3,163.3 615.5,166.5 649.8,190.9 684.0,172.7 718.3,166.2" fill="none" stroke="#929292" stroke-width="1.6" stroke-linejoin="round"/>
<circle cx="444.3" cy="177.3" r="2.4" fill="#929292"/>
<circle cx="478.6" cy="177.9" r="2.4" fill="#929292"/>
<circle cx="512.8" cy="171.4" r="2.4" fill="#929292"/>
<circle cx="547.0" cy="164.5" r="2.4" fill="#929292"/>
<circle cx="581.3" cy="163.3" r="2.4" fill="#929292"/>
<circle cx="615.5" cy="166.5" r="2.4" fill="#929292"/>
<circle cx="649.8" cy="190.9" r="2.4" fill="#929292"/>
<circle cx="684.0" cy="172.7" r="2.4" fill="#929292"/>
<circle cx="718.3" cy="166.2" r="2.4" fill="#929292"/>
<polyline points="444.3,182.1 478.6,177.6 512.8,170.2 547.0,171.6 581.3,164.1 615.5,168.7 649.8,163.2 684.0,170.4 718.3,174.6" fill="none" stroke="#919191" stroke-width="1.6" stroke-linejoin="round"/>
<circle cx="444.3" cy="182.1" r="2.4" fill="#919191"/>
<circle cx="478.6" cy="177.6" r="2.4" fill="#919191"/>
<circle cx="512.8" cy="170.2" r="2.4" fill="#919191"/>
<circle cx="547.0" cy="171.6" r="2.4" fill="#919191"/>
<circle cx="581.3" cy="164.1" r="2.4" fill="#919191"/>
<circle cx="615.5" cy="168.7" r="2.4" fill="#919191"/>
<circle cx="649.8" cy="163.2" r="2.4" fill="#919191"/>
<circle cx="684.0" cy="170.4" r="2.4" fill="#919191"/>
<circle cx="718.3" cy="174.6" r="2.4" fill="#919191"/>
<polyline points="444.3,176.0 478.6,181.0 512.8,172.0 547.0,177.0 581.3,170.0 615.5,161.9 649.8,142.0 684.0,165.0 718.3,171.0" fill="none" stroke="#909090" stroke-width="1.6" stroke-linejoin="round"/>
<circle cx="444.3" cy="176.0" r="2.4" fill="#909090"/>
<circle cx="478.6" cy="181.0" r="2.4" fill="#909090"/>
<circle cx="512.8" cy="172.0" r="2.4" fill="#909090"/>
<circle cx="547.0" cy="177.0" r="2.4" fill="#909090"/>
<circle cx="581.3" cy="170.0" r="2.4" fill="#909090"/>
<circle cx="615.5" cy="161.9" r="2.4" fill="#909090"/>
<circle cx="649.8" cy="142.0" r="2.4" fill="#909090"/>
<circle cx="684.0" cy="165.0" r="2.4" fill="#909090"/>
<circle cx="718.3" cy="171.0" r="2.4" fill="#909090"/>
<polyline points="444.3,154.1 478.6,168.6 512.8,148.3 547.0,147.2 581.3,146.8 615.5,147.2 649.8,151.8 684.0,156.6 718.3,147.2" fill="none" stroke="#8b8b8b" stroke-width="1.6" stroke-linejoin="round"/>
<circle cx="444.3" cy="154.1" r="2.4" fill="#8b8b8b"/>
<circle cx="478.6" cy="168.6" r="2.4" fill="#8b8b8b"/>
<circle cx="512.8" cy="148.3" r="2.4" fill="#8b8b8b"/>
<circle cx="547.0" cy="147.2" r="2.4" fill="#8b8b8b"/>
<circle cx="581.3" cy="146.8" r="2.4" fill="#8b8b8b"/>
<circle cx="615.5" cy="147.2" r="2.4" fill="#8b8b8b"/>
<circle cx="649.8" cy="151.8" r="2.4" fill="#8b8b8b"/>
<circle cx="684.0" cy="156.6" r="2.4" fill="#8b8b8b"/>
<circle cx="718.3" cy="147.2" r="2.4" fill="#8b8b8b"/>
<polyline points="444.3,152.5 478.6,157.3 512.8,142.0 547.0,142.0 581.3,146.8 615.5,134.7 649.8,128.8 684.0,123.1 718.3,116.8" fill="none" stroke="#878787" stroke-width="1.6" stroke-linejoin="round"/>
<circle cx="444.3" cy="152.5" r="2.4" fill="#878787"/>
<circle cx="478.6" cy="157.3" r="2.4" fill="#878787"/>
<circle cx="512.8" cy="142.0" r="2.4" fill="#878787"/>
<circle cx="547.0" cy="142.0" r="2.4" fill="#878787"/>
<circle cx="581.3" cy="146.8" r="2.4" fill="#878787"/>
<circle cx="615.5" cy="134.7" r="2.4" fill="#878787"/>
<circle cx="649.8" cy="128.8" r="2.4" fill="#878787"/>
<circle cx="684.0" cy="123.1" r="2.4" fill="#878787"/>
<circle cx="718.3" cy="116.8" r="2.4" fill="#878787"/>
<polyline points="444.3,130.3 478.6,147.9 512.8,127.2 547.0,121.2 581.3,126.4 615.5,125.9 649.8,128.4 684.0,129.0 718.3,124.3" fill="none" stroke="#848484" stroke-width="1.6" stroke-linejoin="round"/>
<circle cx="444.3" cy="130.3" r="2.4" fill="#848484"/>
<circle cx="478.6" cy="147.9" r="2.4" fill="#848484"/>
<circle cx="512.8" cy="127.2" r="2.4" fill="#848484"/>
<circle cx="547.0" cy="121.2" r="2.4" fill="#848484"/>
<circle cx="581.3" cy="126.4" r="2.4" fill="#848484"/>
<circle cx="615.5" cy="125.9" r="2.4" fill="#848484"/>
<circle cx="649.8" cy="128.4" r="2.4" fill="#848484"/>
<circle cx="684.0" cy="129.0" r="2.4" fill="#848484"/>
<circle cx="718.3" cy="124.3" r="2.4" fill="#848484"/>
<polyline points="444.3,139.3 478.6,123.3 512.8,123.8 547.0,114.7 581.3,118.6 615.5,114.7 649.8,110.8 684.0,114.7 718.3,114.2" fill="none" stroke="#838383" stroke-width="1.6" stroke-linejoin="round"/>
<circle cx="444.3" cy="139.3" r="2.4" fill="#838383"/>
<circle cx="478.6" cy="123.3" r="2.4" fill="#838383"/>
<circle cx="512.8" cy="123.8" r="2.4" fill="#838383"/>
<circle cx="547.0" cy="114.7" r="2.4" fill="#838383"/>
<circle cx="581.3" cy="118.6" r="2.4" fill="#838383"/>
<circle cx="615.5" cy="114.7" r="2.4" fill="#838383"/>
<circle cx="649.8" cy="110.8" r="2.4" fill="#838383"/>
<circle cx="684.0" cy="114.7" r="2.4" fill="#838383"/>
<circle cx="718.3" cy="114.2" r="2.4" fill="#838383"/>
<polyline points="444.3,118.1 478.6,139.3 512.8,125.1 547.0,117.8 581.3,121.2 615.5,113.4 649.8,110.3 684.0,110.0 718.3,113.4" fill="none" stroke="#838383" stroke-width="1.6" stroke-linejoin="round"/>
<circle cx="444.3" cy="118.1" r="2.4" fill="#838383"/>
<circle cx="478.6" cy="139.3" r="2.4" fill="#838383"/>
<circle cx="512.8" cy="125.1" r="2.4" fill="#838383"/>
<circle cx="547.0" cy="117.8" r="2.4" fill="#838383"/>
<circle cx="581.3" cy="121.2" r="2.4" fill="#838383"/>
<circle cx="615.5" cy="113.4" r="2.4" fill="#838383"/>
<circle cx="649.8" cy="110.3" r="2.4" fill="#838383"/>
<circle cx="684.0" cy="110.0" r="2.4" fill="#838383"/>
<circle cx="718.3" cy="113.4" r="2.4" fill="#838383"/>
<polyline points="444.3,97.1 478.6,95.0 512.8,90.4 547.0,119.9 581.3,127.7 615.5,94.0 649.8,90.6 684.0,87.0 718.3,93.5" fill="none" stroke="#808080" stroke-width="1.6" stroke-linejoin="round"/>
<circle cx="444.3" cy="97.1" r="2.4" fill="#808080"/>
<circle cx="478.6" cy="95.0" r="2.4" fill="#808080"/>
<circle cx="512.8" cy="90.4" r="2.4" fill="#808080"/>
<circle cx="547.0" cy="119.9" r="2.4" fill="#808080"/>
<circle cx="581.3" cy="127.7" r="2.4" fill="#808080"/>
<circle cx="615.5" cy="94.0" r="2.4" fill="#808080"/>
<circle cx="649.8" cy="90.6" r="2.4" fill="#808080"/>
<circle cx="684.0" cy="87.0" r="2.4" fill="#808080"/>
<circle cx="718.3" cy="93.5" r="2.4" fill="#808080"/>
<polyline points="444.3,87.5 478.6,81.6 512.8,72.5 547.0,70.2 581.3,56.5 615.5,69.4 649.8,85.5 684.0,94.0 718.3,73.8" fill="none" stroke="#7c7c7c" stroke-width="1.6" stroke-linejoin="round"/>
<circle cx="444.3" cy="87.5" r="2.4" fill="#7c7c7c"/>
<circle cx="478.6" cy="81.6" r="2.4" fill="#7c7c7c"/>
<circle cx="512.8" cy="72.5" r="2.4" fill="#7c7c7c"/>
<circle cx="547.0" cy="70.2" r="2.4" fill="#7c7c7c"/>
<circle cx="581.3" cy="56.5" r="2.4" fill="#7c7c7c"/>
<circle cx="615.5" cy="69.4" r="2.4" fill="#7c7c7c"/>
<circle cx="649.8" cy="85.5" r="2.4" fill="#7c7c7c"/>
<circle cx="684.0" cy="94.0" r="2.4" fill="#7c7c7c"/>
<circle cx="718.3" cy="73.8" r="2.4" fill="#7c7c7c"/>
<line x1="444.3" y1="164.6" x2="444.3" y2="262.7" stroke="#050505" stroke-width="3.0"/>
<circle cx="444.3" cy="164.6" r="2.3" fill="#050505"/>
<circle cx="444.3" cy="262.7" r="2.3" fill="#050505"/>
<line x1="478.6" y1="168.0" x2="478.6" y2="264.0" stroke="#050505" stroke-width="3.0"/>
<circle cx="478.6" cy="168.0" r="2.3" fill="#050505"/>
<circle cx="478.6" cy="264.0" r="2.3" fill="#050505"/>
<line x1="512.8" y1="160.2" x2="512.8" y2="260.6" stroke="#050505" stroke-width="3.0"/>
<circle cx="512.8" cy="160.2" r="2.3" fill="#050505"/>
<circle cx="512.8" cy="260.6" r="2.3" fill="#050505"/>
<line x1="547.0" y1="157.6" x2="547.0" y2="255.0" stroke="#050505" stroke-width="3.0"/>
<circle cx="547.0" cy="157.6" r="2.3" fill="#050505"/>
<circle cx="547.0" cy="255.0" r="2.3" fill="#050505"/>
<line x1="581.3" y1="156.0" x2="581.3" y2="257.5" stroke="#050505" stroke-width="3.0"/>
<circle cx="581.3" cy="156.0" r="2.3" fill="#050505"/>
<circle cx="581.3" cy="257.5" r="2.3" fill="#050505"/>
<line x1="615.5" y1="155.0" x2="615.5" y2="261.4" stroke="#050505" stroke-width="3.0"/>
<circle cx="615.5" cy="155.0" r="2.3" fill="#050505"/>
<circle cx="615.5" cy="261.4" r="2.3" fill="#050505"/>
<line x1="649.8" y1="154.2" x2="649.8" y2="257.5" stroke="#050505" stroke-width="3.0"/>
<circle cx="649.8" cy="154.2" r="2.3" fill="#050505"/>
<circle cx="649.8" cy="257.5" r="2.3" fill="#050505"/>
<line x1="684.0" y1="156.8" x2="684.0" y2="255.0" stroke="#050505" stroke-width="3.0"/>
<circle cx="684.0" cy="156.8" r="2.3" fill="#050505"/>
<circle cx="684.0" cy="255.0" r="2.3" fill="#050505"/>
<line x1="718.3" y1="152.2" x2="718.3" y2="258.3" stroke="#050505" stroke-width="3.0"/>
<circle cx="718.3" cy="152.2" r="2.3" fill="#050505"/>
<circle cx="718.3" cy="258.3" r="2.3" fill="#050505"/>
<polyline points="444.3,213.7 478.6,216.2 512.8,210.4 547.0,206.6 581.3,206.9 615.5,208.1 649.8,205.9 684.0,205.9 718.3,205.4" fill="none" stroke="#050505" stroke-width="2.8" stroke-linejoin="round"/>
<circle cx="444.3" cy="213.7" r="3" fill="#050505"/>
<circle cx="478.6" cy="216.2" r="3" fill="#050505"/>
<circle cx="512.8" cy="210.4" r="3" fill="#050505"/>
<circle cx="547.0" cy="206.6" r="3" fill="#050505"/>
<circle cx="581.3" cy="206.9" r="3" fill="#050505"/>
<circle cx="615.5" cy="208.1" r="3" fill="#050505"/>
<circle cx="649.8" cy="205.9" r="3" fill="#050505"/>
<circle cx="684.0" cy="205.9" r="3" fill="#050505"/>
<circle cx="718.3" cy="205.4" r="3" fill="#050505"/>
<rect x="426.3" y="48.2" width="310.2" height="277.9" fill="none" stroke="#3c3c3c" stroke-width="1.1"/>
<line x1="420.3" y1="299.2" x2="426.2" y2="299.2" stroke="#3a3a3a" stroke-width="1"/>
<text transform="translate(413,298.9) rotate(-90) scale(0.9,1)" text-anchor="middle" font-size="9.5" fill="#222" stroke="#222" stroke-width="0.25">0</text>
<line x1="420.3" y1="243.2" x2="426.2" y2="243.2" stroke="#3a3a3a" stroke-width="1"/>
<text transform="translate(413,242.9) rotate(-90) scale(0.9,1)" text-anchor="middle" font-size="9.5" fill="#222" stroke="#222" stroke-width="0.25">10</text>
<line x1="420.3" y1="187.2" x2="426.2" y2="187.2" stroke="#3a3a3a" stroke-width="1"/>
<text transform="translate(413,186.9) rotate(-90) scale(0.9,1)" text-anchor="middle" font-size="9.5" fill="#222" stroke="#222" stroke-width="0.25">20</text>
<line x1="420.3" y1="131.2" x2="426.2" y2="131.2" stroke="#3a3a3a" stroke-width="1"/>
<text transform="translate(413,130.9) rotate(-90) scale(0.9,1)" text-anchor="middle" font-size="9.5" fill="#222" stroke="#222" stroke-width="0.25">30</text>
<line x1="420.3" y1="75.2" x2="426.2" y2="75.2" stroke="#3a3a3a" stroke-width="1"/>
<text transform="translate(413,74.9) rotate(-90) scale(0.9,1)" text-anchor="middle" font-size="9.5" fill="#222" stroke="#222" stroke-width="0.25">40</text>
<line x1="444.3" y1="326.2" x2="444.3" y2="332" stroke="#3a3a3a" stroke-width="1"/>
<text x="444.3" y="344.7" text-anchor="middle" font-size="12" fill="#222" stroke="#222" stroke-width="0.25">I</text>
<line x1="478.6" y1="326.2" x2="478.6" y2="332" stroke="#3a3a3a" stroke-width="1"/>
<text x="478.6" y="344.7" text-anchor="middle" font-size="12" fill="#222" stroke="#222" stroke-width="0.25">II</text>
<line x1="512.8" y1="326.2" x2="512.8" y2="332" stroke="#3a3a3a" stroke-width="1"/>
<text x="512.8" y="344.7" text-anchor="middle" font-size="12" fill="#222" stroke="#222" stroke-width="0.25">III</text>
<line x1="547.0" y1="326.2" x2="547.0" y2="332" stroke="#3a3a3a" stroke-width="1"/>
<text x="547.0" y="344.7" text-anchor="middle" font-size="12" fill="#222" stroke="#222" stroke-width="0.25">IVa</text>
<line x1="581.3" y1="326.2" x2="581.3" y2="332" stroke="#3a3a3a" stroke-width="1"/>
<text x="581.3" y="344.7" text-anchor="middle" font-size="12" fill="#222" stroke="#222" stroke-width="0.25">IVb</text>
<line x1="615.5" y1="326.2" x2="615.5" y2="332" stroke="#3a3a3a" stroke-width="1"/>
<text x="615.5" y="344.7" text-anchor="middle" font-size="12" fill="#222" stroke="#222" stroke-width="0.25">V</text>
<line x1="649.8" y1="326.2" x2="649.8" y2="332" stroke="#3a3a3a" stroke-width="1"/>
<text x="649.8" y="344.7" text-anchor="middle" font-size="12" fill="#222" stroke="#222" stroke-width="0.25">VI</text>
<line x1="684.0" y1="326.2" x2="684.0" y2="332" stroke="#3a3a3a" stroke-width="1"/>
<text x="684.0" y="344.7" text-anchor="middle" font-size="12" fill="#222" stroke="#222" stroke-width="0.25">VII</text>
<line x1="718.3" y1="326.2" x2="718.3" y2="332" stroke="#3a3a3a" stroke-width="1"/>
<text x="718.3" y="344.7" text-anchor="middle" font-size="12" fill="#222" stroke="#222" stroke-width="0.25">VIII</text>
<text transform="translate(392.5,263.7) rotate(-90)" font-size="10.8" textLength="154.8" lengthAdjust="spacingAndGlyphs" fill="#1c1c1c" stroke="#1c1c1c" stroke-width="0.25">Segmental PDFF Mean (%)</text>
</g>
</svg>
</body></html>
